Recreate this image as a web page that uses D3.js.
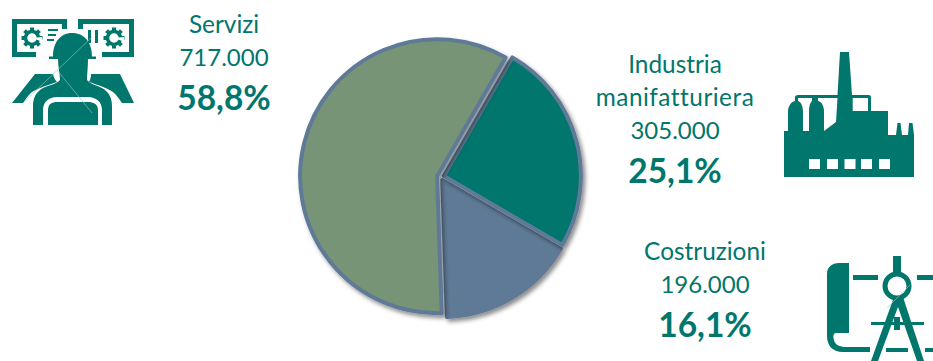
<!DOCTYPE html>
<html>
<head>
<meta charset="utf-8">
<script src="https://cdn.jsdelivr.net/npm/d3@7/dist/d3.min.js"></script>
<style>
html,body{margin:0;padding:0;background:#fff;overflow:hidden}
text{font-family:Lato,"Open Sans",sans-serif;fill:#00766c;text-anchor:middle;font-variant-ligatures:none}
.name,.amount{font-size:24px;font-weight:400}
.name{font-size:24.4px}
.share{font-size:33.5px;font-weight:700}
.long{letter-spacing:.5px}
</style>
</head>
<body>
<svg id="chart" width="933" height="361"></svg>
<script>
// Occupati per settore
const sectors = ["Industria manifatturiera", "Costruzioni", "Servizi"];
const employed = [305000, 196000, 717000];
const shareLabels = ["25,1%", "16,1%", "58,8%"];
const amountLabels = ["305.000", "196.000", "717.000"];
const sliceColors = ["#00766c", "#5f7a96", "#779576"];
const nameLines = [["Industria", "manifatturiera"], ["Costruzioni"], ["Servizi"]];

const INK = "#00766c";
const svg = d3.select("#chart");
const defs = svg.append("defs");
const shadow = defs.append("filter").attr("id", "sliceShadow")
  .attr("x", "-10%").attr("y", "-10%").attr("width", "125%").attr("height", "125%");
shadow.append("feDropShadow").attr("dx", 2.5).attr("dy", 3).attr("stdDeviation", 2.2)
  .attr("flood-color", "#000").attr("flood-opacity", 0.45);

// Torta con le fette leggermente staccate
const cx = 440.5, cy = 177, radius = 137, gap = 3.5;
const rotation = 30 * Math.PI / 180;
const pie = d3.pie().sort(null)
  .startAngle(rotation).endAngle(rotation + 2 * Math.PI);
const arc = d3.arc().innerRadius(0).outerRadius(radius);
const order = [1, 0, 2];
const slices = pie(employed);
svg.append("g").selectAll("path")
  .data(order.map(i => ({slice: slices[i], i})))
  .join("path")
  .attr("d", d => arc(d.slice))
  .attr("transform", d => {
    const mid = (d.slice.startAngle + d.slice.endAngle) / 2;
    return `translate(${cx + gap * Math.sin(mid)},${cy - gap * Math.cos(mid)})`;
  })
  .attr("fill", d => sliceColors[d.i])
  .attr("stroke", "#5f7a96")
  .attr("stroke-width", 4)
  .attr("stroke-linejoin", "round")
  .attr("filter", "url(#sliceShadow)");

// Etichette dei settori
const labelAnchors = [[675, 73], [705, 260], [224, 33]];
const lineStep = 33;
sectors.forEach((s, i) => {
  const [x, y0] = labelAnchors[i];
  const g = svg.append("g").attr("aria-label", s);
  let y = y0;
  nameLines[i].forEach(line => {
    g.append("text").attr("class", line.length > 12 ? "name long" : "name")
      .attr("x", x).attr("y", y).text(line);
    y += lineStep;
  });
  g.append("text").attr("class", "amount").attr("x", x).attr("y", y).text(amountLabels[i]);
  g.append("text").attr("class", "share").attr("x", x).attr("y", y + 43.5).text(shareLabels[i]);
});

// Pittogramma ingranaggio, disegnato attorno all'origine
function gear(g, x, y) {
  const teeth = d3.range(8).map(k => k * 45);
  const c = g.append("g").attr("transform", `translate(${x},${y})`);
  c.selectAll("rect").data(teeth).join("rect")
    .attr("x", -2).attr("y", -10.5).attr("width", 4).attr("height", 5)
    .attr("transform", a => `rotate(${a})`).attr("fill", INK);
  c.append("circle").attr("r", 6.5).attr("fill", "none").attr("stroke", INK).attr("stroke-width", 3.5);
  c.append("path").attr("d", "M0,0L10,-1L11,4Z").attr("fill", "#fff");
}

// Lavoratore con monitor
const worker = svg.append("g").attr("fill", INK);
worker.append("path").attr("d",
  "M12,19H67V29H62V24H17V52H36V57H12Z M78,19H134V57H102V52H129V24H83V29H78Z");
gear(worker, 32, 38);
gear(worker, 114, 38);
worker.append("path").attr("d",
  "M48,29H58V31H48Z M48,34H56V36H48Z M47,39H54V41H47Z M88,30H91V43H88Z M95,30H98V43H95Z");
worker.append("path").attr("d",
  "M49,59V56.5H53C53,43 60,33 72,33C85,33 92,43 92,56.5H96V59H88C88,67 87,74 87,80C90,84 96,85 102,88C109,92 112,98 112,106V125H102V110C102,102 96,97 88,97H57C49,97 43,102 43,110V125H33V106C33,98 36,92 43,88C49,85 57,84 60,80C60,74 58,67 58,59Z");
worker.append("path").attr("d",
  "M48,125V110C48,104 52,102 57,102H88C93,102 98,104 98,110V125Z");
worker.append("path").attr("d",
  "M35,74H53C54,78 55,80 57,82C48,85 41,87 32,92C28,95 26,99 23,103H12Z M91,74H120L134,103H122C119,99 117,95 113,92C105,87 98,85 89,82C90,80 91,78 91,74Z");
worker.append("path").attr("d", "M23,103L92,37 M57,70L92,113")
  .attr("fill", "none").attr("stroke", "#9cc9c3").attr("stroke-width", 0.6);

// Stabilimento industriale
const factory = svg.append("g").attr("fill", INK);
factory.append("path").attr("fill-rule", "evenodd").attr("d",
  "M784,177V131H788V112C788,106 791,102 795,101V97.5C795,96 796,95 798,95H837.5L840,52H849L852,95H869C870,95 871,96 871,97.5V111H888V135H896L897.5,123H900.5L902,135H908L909,123H912.5L914,135V177Z "
  + "M852.7,98V111H868V98Z "
  + "M798,98V101C801,102 803,106 803,112V131H809V112C809,106 810,103 812,101V98Z "
  + "M824,131L836,122L837.5,98H818V101C822,102 824,106 824,112Z "
  + "M809,159V169H820V159Z M827,159V169H838V159Z M844.5,159V169H855.5V159Z M861,159V169H872V159Z M879,159V169H890V159Z");

// Progetto e compasso
const drafting = svg.append("g").attr("fill", INK);
drafting.append("path").attr("d",
  "M849,263V333H836C833,333 833,337 834,340C835,345 840,347 846,347H870V352H843C832,352 827,345 827,336V274C827,267 832,263 839,263Z");
drafting.append("path").attr("d",
  "M853,275H878V280H853Z M917,275H933V280H917Z M886,348H908V352H886Z M925,348H933V352H925Z M871,322H924V325H871Z M894,317H900V330H894Z");
drafting.append("path").attr("d", "M893,256H901V272H893Z");
drafting.append("circle").attr("cx", 897).attr("cy", 286).attr("r", 12)
  .attr("fill", "none").attr("stroke", INK).attr("stroke-width", 5);
drafting.append("path").attr("d",
  "M894,297H903L924,361H917L898,307L878,361H871Z");
drafting.append("path").attr("d", "M887,308L910,285")
  .attr("fill", "none").attr("stroke", "#9cc9c3").attr("stroke-width", 0.6);
</script>
</body>
</html>
